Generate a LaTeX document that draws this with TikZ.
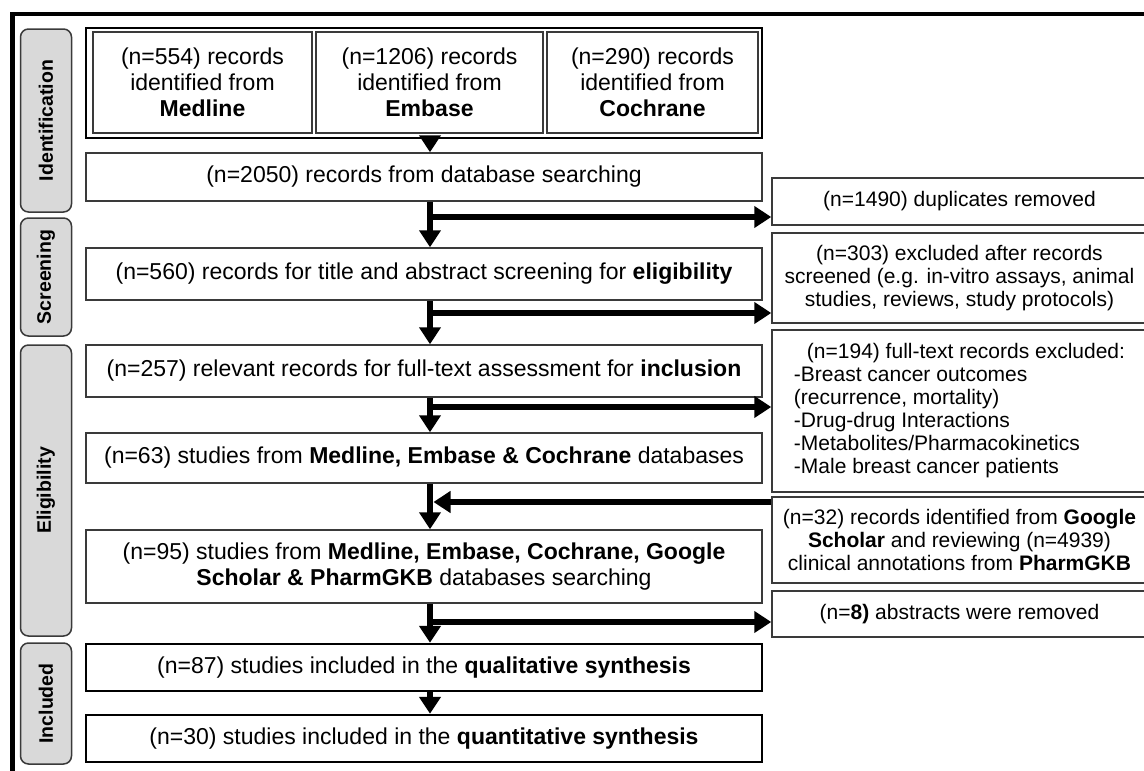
\documentclass[tikz,border=0pt]{standalone}
\usepackage{fontspec}
\setmainfont{Liberation Sans}
\usetikzlibrary{arrows.meta}
\definecolor{boxgray}{HTML}{3A3A3A}
\definecolor{stagefill}{HTML}{D9D9D9}
\newcommand\mtext{\fontsize{23}{26}\selectfont}
\newcommand\rtext{\fontsize{21}{23}\selectfont}
\newcommand\stext{\fontsize{19.5}{22}\selectfont\bfseries}
\begin{document}
\begin{tikzpicture}[x=1pt,y=-1pt,
  mainbox/.style={draw=boxgray, line width=1.5pt, fill=white, inner sep=0pt, align=center, font=\mtext, minimum width=676pt},
  strongbox/.style={mainbox, draw=black, line width=2.4pt},
  srcbox/.style={draw=boxgray, line width=1.3pt, inner sep=0pt, align=center, font=\mtext, minimum height=101pt},
  sidebox/.style={draw=boxgray, line width=1.5pt, fill=white, inner sep=0pt, align=center, font=\rtext, minimum width=375pt},
  stage/.style={draw=boxgray, line width=1.5pt, fill=stagefill, rounded corners=8pt, inner sep=0pt, font=\stext, rotate=90, minimum height=51pt},
  arr/.style={line width=6pt, -{Triangle[width=21pt,length=17pt]}},
]
\useasboundingbox (0,0) rectangle (1144,771);
% outer frame
\draw[line width=4.5pt, line join=miter] (12.5,800) -- (12.5,14) -- (1160,14);

% stage labels
\node[stage, minimum width=183pt] (sId) at (46,120.5) {Identification};
\node[stage, minimum width=118pt] (sScr) at (46,277) {Screening};
\node[stage, minimum width=291pt] (sElig) at (46,490.5) {Eligibility};
\node[stage, minimum width=121pt] (sIncl) at (46,703.5) {Included};

% identification group
\node[draw=black, line width=2.5pt, minimum width=676pt, minimum height=110pt, inner sep=0pt] (grp) at (424,83) {};
\node[srcbox, minimum width=219pt] (med) at (202.5,82.5) {(n=554) records\\identified from\\\textbf{Medline}};
\node[srcbox, minimum width=227pt] (emb) at (429.5,82.5) {(n=1206) records\\identified from\\\textbf{Embase}};
\node[srcbox, minimum width=211pt] (coch) at (652.5,82.5) {(n=290) records\\identified from\\\textbf{Cochrane}};

% main column
\node[mainbox, minimum height=48pt] (b2050) at (424,177) {(n=2050) records from database searching};
\node[mainbox, minimum height=52pt] (b560) at (424,274) {(n=560) records for title and abstract screening for \textbf{eligibility}};
\node[mainbox, minimum height=52pt] (b257) at (424,371) {(n=257) relevant records for full-text assessment for \textbf{inclusion}};
\node[mainbox, minimum height=50pt] (b63) at (424,458) {(n=63) studies from \textbf{Medline, Embase \& Cochrane} databases};
\node[mainbox, minimum height=73pt] (b95) at (424,566.5) {(n=95) studies from \textbf{Medline, Embase, Cochrane, Google}\\\textbf{Scholar \& PharmGKB} databases searching};
\node[strongbox, minimum height=47pt] (b87) at (424,667.5) {(n=87) studies included in the \textbf{qualitative synthesis}};
\node[strongbox, minimum height=47pt] (b30) at (424,738.5) {(n=30) studies included in the \textbf{quantitative synthesis}};

% side column
\node[sidebox, minimum height=47pt] (dup) at (959.5,201.5) {(n=1490) duplicates removed};
\node[sidebox, minimum height=90pt] (r303) at (959.5,278) {(n=303) excluded after records\\screened (e.g. in-vitro assays, animal\\studies, reviews, study protocols)};
\node[sidebox, minimum height=162pt, align=left] (r194) at (959.5,411) {\hspace*{13pt}(n=194) full-text records excluded:\\-Breast cancer outcomes\\(recurrence, mortality)\\-Drug-drug Interactions\\-Metabolites/Pharmacokinetics\\-Male breast cancer patients};
\node[sidebox, minimum height=86pt] (r32) at (959.5,540) {(n=32) records identified from \textbf{Google}\\\textbf{Scholar} and reviewing (n=4939)\\clinical annotations from \textbf{PharmGKB}};
\node[sidebox, minimum height=46pt] (r8) at (959.5,614) {(n=\textbf{8)} abstracts were removed};

% trunk coordinates
\coordinate (tx) at (430,0);
\coordinate (j1) at (430,217);
\coordinate (j2) at (430,313);
\coordinate (j3) at (430,407);
\coordinate (j4) at (430,502);
\coordinate (j4t) at (433.5,502);
\coordinate (j5) at (430,622);

% vertical arrows
\draw[arr] (tx |- grp.south) -- (tx |- b2050.north);
\draw[arr] (tx |- b2050.south) -- (tx |- b560.north);
\draw[arr] (tx |- b560.south) -- (tx |- b257.north);
\draw[arr] (tx |- b257.south) -- (tx |- b63.north);
\draw[arr] (tx |- b63.south) -- (tx |- b95.north);
\draw[arr] (tx |- b95.south) -- (tx |- b87.north);
\draw[arr] (tx |- b87.south) -- (tx |- b30.north);

% horizontal arrows
\draw[arr] (j1) -- (j1 -| dup.west);
\draw[arr] (j2) -- (j2 -| r303.west);
\draw[arr] (j3) -- (j3 -| r194.west);
\draw[arr] (j4 -| r32.west) -- (j4t);
\draw[arr] (j5) -- (j5 -| r8.west);
\end{tikzpicture}
\end{document}
